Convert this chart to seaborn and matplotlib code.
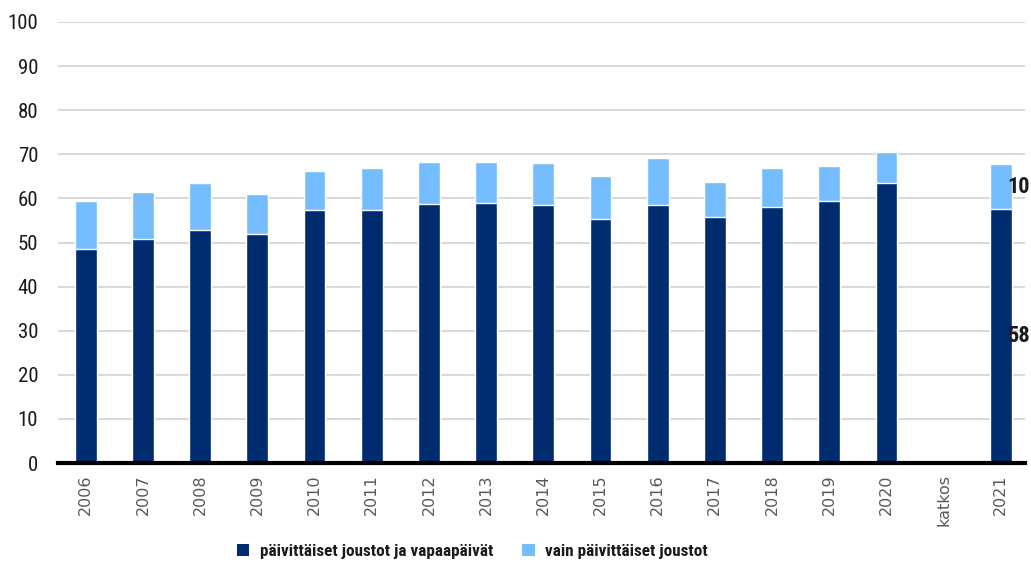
import numpy as np
import pandas as pd
import matplotlib
matplotlib.use("Agg")
import matplotlib.pyplot as plt
from matplotlib import font_manager as fm
from matplotlib.patches import Patch
import seaborn as sns

categories = ["2006", "2007", "2008", "2009", "2010", "2011", "2012", "2013",
              "2014", "2015", "2016", "2017", "2018", "2019", "2020", "katkos", "2021"]
dark_vals = [48.5, 50.9, 52.8, 51.9, 57.3, 57.3, 58.7, 59.0,
             58.6, 55.3, 58.4, 55.7, 58.1, 59.4, 63.4, np.nan, 57.6]
light_vals = [10.9, 10.5, 10.6, 9.1, 8.9, 9.7, 9.6, 9.3,
              9.4, 9.8, 10.7, 8.0, 8.7, 8.0, 7.1, np.nan, 10.1]
series_names = ["päivittäiset joustot ja vapaapäivät", "vain päivittäiset joustot"]
end_labels = ["58", "10"]
y_ticks = [0, 10, 20, 30, 40, 50, 60, 70, 80, 90, 100]

DARK = "#002b6e"
LIGHT = "#75bdff"

sns.set_theme(style="white")
names = sorted({f.name for f in fm.fontManager.ttflist})
cond = None
for pref in ["Roboto Condensed", "Open Sans Condensed", "Liberation Sans Narrow",
             "Noto Sans Condensed", "DejaVu Sans Condensed"]:
    if pref in names:
        cond = pref
        break
if cond is None:
    for n in names:
        if "Condensed" in n or "Narrow" in n:
            cond = n
            break
if cond is None:
    cond = "Roboto"
    scale = 0.82
else:
    scale = 1.0
plt.rcParams["font.family"] = [cond, "DejaVu Sans"]

df = pd.DataFrame({"cat": categories, "dark": dark_vals, "light": light_vals})
df["total"] = df["dark"] + df["light"]

fig = plt.figure(figsize=(10.31, 5.62), dpi=100)
ax = fig.add_axes([0.056, 0.176, 0.938, 0.785])

sns.barplot(data=df, x="cat", y="total", order=categories, color=LIGHT,
            width=0.38, saturation=1, edgecolor="white", linewidth=1, ax=ax)
sns.barplot(data=df, x="cat", y="dark", order=categories, color=DARK,
            width=0.38, saturation=1, edgecolor="white", linewidth=1, ax=ax)

ax.set_ylim(0, 100)
ax.set_xlim(-0.49, 16.42)
ax.set_yticks(y_ticks)
ax.set_yticklabels([str(t) for t in y_ticks], fontsize=15 * scale, color="#1a1a1a")
ax.set_xticks(range(len(categories)))
ax.set_xticklabels(categories, rotation=90, color="#595959")
ax.tick_params(axis="y", length=0, pad=14)
ax.tick_params(axis="x", length=0, pad=8)
for t in ax.get_xticklabels():
    t.set_fontfamily("DejaVu Sans")
    t.set_fontstretch("normal")
    t.set_fontsize(11.5)
ax.set_xlabel("")
ax.set_ylabel("")
ax.yaxis.grid(True, color="#d9d9d9", linewidth=1.5)
ax.set_axisbelow(True)
for s in ["top", "right", "left"]:
    ax.spines[s].set_visible(False)
ax.spines["bottom"].set_color("black")
ax.spines["bottom"].set_linewidth(3)

# end labels for last bar
last = len(categories) - 1
d = df["dark"].iloc[last]
l = df["light"].iloc[last]
ax.text(last + 0.12, d / 2, end_labels[0], ha="left", va="center", fontsize=16 * scale,
        fontweight="bold", color="#1a1a1a", clip_on=False)
ax.text(last + 0.12, d + l / 2, end_labels[1], ha="left", va="center", fontsize=16 * scale,
        fontweight="bold", color="#1a1a1a", clip_on=False)

handles = [Patch(facecolor=DARK, edgecolor="none", label=series_names[0]),
           Patch(facecolor=LIGHT, edgecolor="none", label=series_names[1])]
leg = fig.legend(handles=handles, loc="lower center", bbox_to_anchor=(0.458, -0.022),
                 ncol=2, frameon=False, fontsize=12.3 * scale, handlelength=0.75, handleheight=0.75,
                 columnspacing=1.7, handletextpad=0.6)
for t in leg.get_texts():
    t.set_fontweight("bold")
    t.set_color("#1a1a1a")

fig.savefig("out.png", dpi=100)
